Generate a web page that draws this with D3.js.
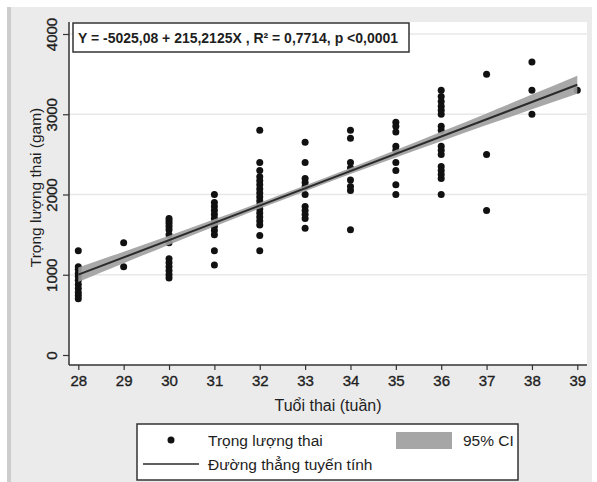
<!DOCTYPE html>
<html>
<head>
<meta charset="utf-8">
<script src="https://cdn.jsdelivr.net/npm/d3@7"></script>
<style>
	body { margin: 0; background: #fff; }
	svg { display: block; }
	text { font-family: "Liberation Sans", Arial, sans-serif; fill: #1e1e1e; }
</style>
</head>
<body>
<svg id="chart" width="597" height="482"></svg>
<script>
// gestational age (weeks) on the x axis
const weeks = [28, 29, 30, 31, 32, 33, 34, 35, 36, 37, 38, 39]

const weightsByWeek = [
	[1300, 1100, 1070, 1020, 980, 930, 880, 830, 780, 740, 700],
	[1400, 1100],
	[1700, 1670, 1640, 1600, 1560, 1500, 1400, 1200, 1150, 1100, 1050, 1000, 960],
	[2000, 1900, 1850, 1800, 1750, 1700, 1650, 1600, 1550, 1500, 1300, 1120],
	[2800, 2400, 2300, 2220, 2170, 2120, 2070, 2020, 1970, 1920, 1870, 1820, 1770, 1720, 1670, 1620, 1490, 1300],
	[2650, 2400, 2200, 2150, 2100, 2000, 1850, 1800, 1750, 1700, 1580],
	[2800, 2700, 2400, 2330, 2180, 2100, 2050, 1560],
	[2900, 2850, 2780, 2600, 2550, 2400, 2300, 2120, 2000],
	[3300, 3220, 3160, 3100, 3050, 3000, 2850, 2800, 2600, 2550, 2500, 2350, 2300, 2250, 2200, 2000],
	[3500, 2500, 1800],
	[3650, 3300, 3000],
	[3300]
]

// fitted line from the printed equation
const intercept = -5025.08
const slope = 215.2125

// half width of the 95% CI band at each week
const ciHalf = [90, 72, 56, 44, 37, 35, 38, 46, 58, 73, 92, 112]

const yTicks = [0, 1000, 2000, 3000, 4000]
const gridTicks = [1000, 2000, 3000, 4000]

const equationText = 'Y = -5025,08 + 215,2125X , R² = 0,7714, p <0,0001'
const xTitle = 'Tuổi thai (tuần)'
const yTitle = 'Trọng lượng thai (gam)'
const legendLabels = ['Trọng lượng thai', '95% CI', 'Đường thẳng tuyến tính']

const svg = d3.select('#chart')

/*
 * BACKGROUND
 */
svg.append('rect')
	.attr('x', 7).attr('y', 7)
	.attr('width', 585).attr('height', 475)
	.attr('fill', '#ebebeb')

svg.append('rect')
	.attr('x', 7).attr('y', 7)
	.attr('width', 4).attr('height', 475)
	.attr('fill', '#cdcdcd')

const plot = { left: 69, right: 587, top: 22, bottom: 365 }

svg.append('rect')
	.attr('x', plot.left).attr('y', plot.top)
	.attr('width', plot.right - plot.left).attr('height', plot.bottom - plot.top)
	.attr('fill', '#fff')

const x = d3.scaleLinear().domain([28, 39]).range([78.3, 577.3])
const y = d3.scaleLinear().domain([0, 4000]).range([355, 34])

/*
 * GRID
 */
svg.append('g')
	.selectAll('line')
	.data(gridTicks)
	.join('line')
	.attr('x1', plot.left).attr('x2', plot.right)
	.attr('y1', d => y(d)).attr('y2', d => y(d))
	.attr('stroke', '#e8e8e8')
	.attr('stroke-width', 1.5)

/*
 * POINTS
 */
const points = []
weeks.forEach((w, i) => weightsByWeek[i].forEach(v => points.push({ w, v })))

svg.append('g')
	.selectAll('circle')
	.data(points)
	.join('circle')
	.attr('cx', d => x(d.w))
	.attr('cy', d => y(d.v))
	.attr('r', 3.5)
	.attr('fill', '#111')

/*
 * CI BAND + FIT LINE
 */
const fit = w => intercept + slope * w

const band = d3.area()
	.x((d, i) => x(weeks[i]))
	.y0((d, i) => y(fit(weeks[i]) - ciHalf[i]))
	.y1((d, i) => y(fit(weeks[i]) + ciHalf[i]))
	.curve(d3.curveMonotoneX)

svg.append('path')
	.datum(weeks)
	.attr('d', band)
	.attr('fill', '#9e9e9e')
	.attr('fill-opacity', 0.9)

svg.append('line')
	.attr('x1', x(28)).attr('y1', y(fit(28)))
	.attr('x2', x(39)).attr('y2', y(fit(39)))
	.attr('stroke', '#2b2b2b')
	.attr('stroke-width', 2)

/*
 * AXES
 */
const tickFont = sel => sel
	.attr('font-size', 15)
	.attr('font-family', '"Liberation Sans", Arial, sans-serif')
	.attr('fill', '#1e1e1e')
	.attr('stroke', '#1e1e1e')
	.attr('stroke-width', 0.35)

const xAxis = svg.append('g')
	.attr('transform', `translate(0,${plot.bottom})`)
	.call(d3.axisBottom(x).tickValues(weeks).tickSize(5).tickPadding(5).tickFormat(d3.format('d')))
xAxis.select('.domain')
	.attr('d', `M${plot.left},0H${plot.right}`)
	.attr('stroke', '#333')
	.attr('stroke-width', 1.5)
xAxis.selectAll('.tick line').attr('stroke', '#333').attr('stroke-width', 1.2)
xAxis.selectAll('.tick text').call(tickFont)

const yAxis = svg.append('g')
	.attr('transform', `translate(${plot.left},0)`)
	.call(d3.axisLeft(y).tickValues(yTicks).tickSize(6).tickFormat(d3.format('d')))
yAxis.select('.domain')
	.attr('d', `M0,${plot.top}V${plot.bottom}`)
	.attr('stroke', '#333')
	.attr('stroke-width', 1.5)
yAxis.selectAll('.tick line').attr('stroke', '#333').attr('stroke-width', 1.2)
// stata-style vertical tick labels
yAxis.selectAll('.tick text')
	.attr('x', null).attr('dy', null)
	.attr('transform', 'translate(-12,0) rotate(-90)')
	.attr('text-anchor', 'middle')
	.call(tickFont)

svg.append('text')
	.attr('x', (plot.left + plot.right) / 2)
	.attr('y', 411)
	.attr('text-anchor', 'middle')
	.attr('font-size', 16)
	.text(xTitle)

svg.append('text')
	.attr('transform', `translate(41,${(plot.top + plot.bottom) / 2 - 6}) rotate(-90)`)
	.attr('text-anchor', 'middle')
	.attr('font-size', 15.5)
	.text(yTitle)

/*
 * EQUATION BOX
 */
svg.append('rect')
	.attr('x', 73).attr('y', 23)
	.attr('width', 336).attr('height', 29)
	.attr('fill', '#fff')
	.attr('stroke', '#333')
	.attr('stroke-width', 1.5)

svg.append('text')
	.attr('x', 78).attr('y', 43)
	.attr('font-size', 15)
	.attr('font-family', '"Liberation Sans Narrow", "Liberation Sans", sans-serif')
	.attr('font-weight', 'bold')
	.attr('textLength', 320)
	.attr('lengthAdjust', 'spacingAndGlyphs')
	.text(equationText)

/*
 * LEGEND
 */
const legend = svg.append('g')

legend.append('rect')
	.attr('x', 137).attr('y', 424)
	.attr('width', 381).attr('height', 56)
	.attr('fill', '#fff')
	.attr('stroke', '#333')
	.attr('stroke-width', 1.5)

legend.append('circle')
	.attr('cx', 171).attr('cy', 440)
	.attr('r', 3.5)
	.attr('fill', '#111')

legend.append('text')
	.attr('x', 208).attr('y', 446)
	.attr('font-size', 15.5)
	.text(legendLabels[0])

legend.append('rect')
	.attr('x', 396).attr('y', 432)
	.attr('width', 56).attr('height', 17)
	.attr('fill', '#a6a6a6')

legend.append('text')
	.attr('x', 463).attr('y', 446)
	.attr('font-size', 15.5)
	.text(legendLabels[1])

legend.append('line')
	.attr('x1', 143).attr('x2', 199)
	.attr('y1', 464).attr('y2', 464)
	.attr('stroke', '#2b2b2b')
	.attr('stroke-width', 1.5)

legend.append('text')
	.attr('x', 208).attr('y', 470)
	.attr('font-size', 15.5)
	.text(legendLabels[2])
</script>
</body>
</html>
